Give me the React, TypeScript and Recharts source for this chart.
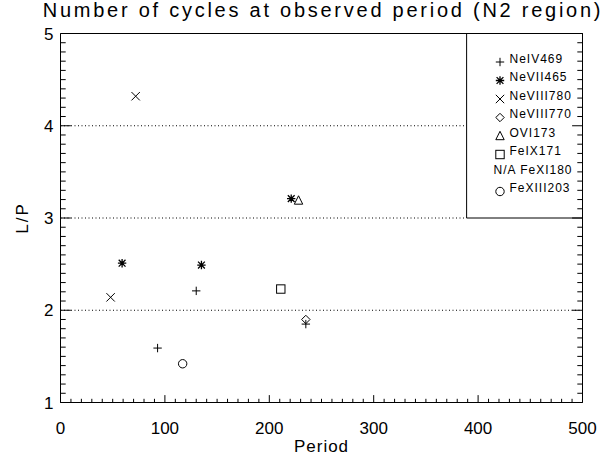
import {
  ScatterChart,
  Scatter,
  XAxis,
  YAxis,
  ReferenceLine,
  ReferenceArea,
  Legend,
} from "recharts";

const FONT = "'Liberation Sans', Arial, sans-serif";
const INK = "#000";

// axis ticks
const xMajorTicks = [0, 100, 200, 300, 400, 500];
const yMajorTicks = [1, 2, 3, 4, 5];
const xMinorStep = 10;
const yMinorStep = 0.1;

// dotted guides, and the corner the legend box takes up
const gridFullWidth = [2];
const gridToLegend = [3, 4];
const legendLeftPeriod = 389;

// period vs L/P per line
const neIV469 = [
  { period: 93, lp: 1.59 },
  { period: 130, lp: 2.21 },
  { period: 235, lp: 1.85 },
];
const neVII465 = [
  { period: 59, lp: 2.51 },
  { period: 135, lp: 2.49 },
  { period: 221, lp: 3.21 },
];
const neVIII780 = [
  { period: 48, lp: 2.14 },
  { period: 72, lp: 4.32 },
];
const neVIII770 = [{ period: 235, lp: 1.9 }];
const ovi173 = [{ period: 228, lp: 3.19 }];
const feIX171 = [{ period: 211, lp: 2.23 }];
const feXIII203 = [{ period: 117, lp: 1.42 }];

const legendNames = [
  "NeIV469",
  "NeVII465",
  "NeVIII780",
  "NeVIII770",
  "OVI173",
  "FeIX171",
  "N/A FeXI180",
  "FeXIII203",
];
const legendKinds = ["plus", "star", "cross", "diamond", "triangle", "square", "", "circle"];

function withMinor(major: number[], step: number) {
  const out: number[] = [];
  const n = Math.round((major[1] - major[0]) / step);
  for (let i = 0; i < major.length - 1; i++) {
    for (let j = 0; j < n; j++) out.push(+(major[i] + j * step).toFixed(4));
  }
  out.push(major[major.length - 1]);
  return out;
}

const xTicks = withMinor(xMajorTicks, xMinorStep);
const yTicks = withMinor(yMajorTicks, yMinorStep);

const isMajor = (v: number, step: number) => Math.abs(v - Math.round(v / step) * step) < 1e-6;

function Marker({ kind, cx, cy }: { kind: string; cx: number; cy: number }) {
  const s = 4.2;
  const st = { stroke: INK, strokeWidth: 1, fill: "none" };
  switch (kind) {
    case "plus":
      return <path d={`M${cx - s},${cy}H${cx + s}M${cx},${cy - s}V${cy + s}`} {...st} />;
    case "cross":
      return (
        <path d={`M${cx - s},${cy - s}L${cx + s},${cy + s}M${cx - s},${cy + s}L${cx + s},${cy - s}`} {...st} />
      );
    case "star": {
      const d = 3.4;
      return (
        <path
          d={`M${cx - s},${cy}H${cx + s}M${cx},${cy - s}V${cy + s}M${cx - d},${cy - d}L${cx + d},${cy + d}M${cx - d},${cy + d}L${cx + d},${cy - d}`}
          {...st}
          strokeWidth={1.3}
        />
      );
    }
    case "diamond":
      return <path d={`M${cx},${cy - s}L${cx + s},${cy}L${cx},${cy + s}L${cx - s},${cy}Z`} {...st} />;
    case "triangle":
      return <path d={`M${cx},${cy - s - 0.5}L${cx + s},${cy + s - 0.5}L${cx - s},${cy + s - 0.5}Z`} {...st} />;
    case "square":
      return <rect x={cx - s} y={cy - s} width={2 * s} height={2 * s} {...st} />;
    case "circle":
      return <circle cx={cx} cy={cy} r={s} {...st} />;
    default:
      return null;
  }
}

const shapeOf = (kind: string) => (p: any) => <Marker kind={kind} cx={p.cx} cy={p.cy} />;

const labelText = { fontFamily: FONT, fontSize: 17, fill: INK };

// ticks point into the plot, IDL style; labels only on bottom and left
function BottomTick(props: any) {
  const { x, y, payload } = props;
  const major = isMajor(payload.value, 100);
  return (
    <g>
      <line x1={x} x2={x} y1={y} y2={y - (major ? 7.4 : 3.7)} stroke={INK} />
      {major && (
        <text x={x} y={y + 31} textAnchor="middle" {...labelText}>
          {payload.value}
        </text>
      )}
    </g>
  );
}

function TopTick(props: any) {
  const { x, y, payload } = props;
  const major = isMajor(payload.value, 100);
  return <line x1={x} x2={x} y1={y} y2={y + (major ? 7.4 : 3.7)} stroke={INK} />;
}

function LeftTick(props: any) {
  const { x, y, payload } = props;
  const major = isMajor(payload.value, 1);
  return (
    <g>
      <line x1={x} x2={x + (major ? 10.4 : 5.2)} y1={y} y2={y} stroke={INK} />
      {major && (
        <text x={x - 7} y={y + 6} textAnchor="end" {...labelText}>
          {payload.value}
        </text>
      )}
    </g>
  );
}

function RightTick(props: any) {
  const { x, y, payload } = props;
  const major = isMajor(payload.value, 1);
  return <line x1={x} x2={x - (major ? 10.4 : 5.2)} y1={y} y2={y} stroke={INK} />;
}

function LegendBox() {
  return (
    <svg width={114} height={184} style={{ display: "block" }}>
      {legendNames.map((name, i) => {
        const base = 28.5 + i * 18.5;
        const kind = legendKinds[i];
        return (
          <g key={name}>
            {kind && <Marker kind={kind} cx={32} cy={base - 0.5} />}
            <text
              x={kind ? 41.5 : 25.5}
              y={base}
              fontFamily={FONT}
              fontSize={12}
              letterSpacing={1}
              fill={INK}
            >
              {name}
            </text>
          </g>
        );
      })}
    </svg>
  );
}

export default function App() {
  return (
    <div style={{ position: "absolute", left: 0, top: 0, width: 611, height: 457, background: "#fff" }}>
      <div
        style={{
          position: "absolute",
          left: 40,
          top: 0,
          width: 566,
          textAlign: "center",
          fontFamily: FONT,
          fontSize: 20,
          lineHeight: "20px",
          letterSpacing: 2.75,
          color: INK,
          whiteSpace: "nowrap",
        }}
      >
        Number of cycles at observed period (N2 region)
      </div>
      <ScatterChart width={611} height={457} margin={{ top: 32.5, right: 27.5, bottom: 0, left: 0 }}>
        <XAxis
          xAxisId={0}
          type="number"
          dataKey="period"
          domain={[0, 500]}
          allowDataOverflow
          ticks={xTicks}
          interval={0}
          height={54.5}
          tickSize={0}
          tickMargin={0}
          tick={BottomTick}
          axisLine={{ stroke: INK }}
          label={{
            content: (p: any) => {
              const vb = p.viewBox;
              return (
                <text x={vb.x + vb.width / 2} y={vb.y + 49.5} textAnchor="middle" letterSpacing={1} {...labelText}>
                  Period
                </text>
              );
            },
          }}
        />
        <XAxis
          xAxisId="top"
          orientation="top"
          type="number"
          domain={[0, 500]}
          allowDataOverflow
          ticks={xTicks}
          interval={0}
          height={1}
          tickSize={0}
          tickMargin={0}
          tick={TopTick}
          axisLine={{ stroke: INK }}
        />
        <YAxis
          yAxisId={0}
          type="number"
          dataKey="lp"
          domain={[1, 5]}
          allowDataOverflow
          ticks={yTicks}
          interval={0}
          width={60.5}
          tickSize={0}
          tickMargin={0}
          tick={LeftTick}
          axisLine={{ stroke: INK }}
          label={{
            content: (p: any) => {
              const vb = p.viewBox;
              const cx = 22;
              const cy = vb.y + vb.height / 2;
              return (
                <text
                  x={cx}
                  y={cy}
                  transform={`rotate(-90 ${cx} ${cy})`}
                  textAnchor="middle"
                  dominantBaseline="central"
                  letterSpacing={2}
                  {...labelText}
                >
                  L/P
                </text>
              );
            },
          }}
        />
        <YAxis
          yAxisId="right"
          orientation="right"
          type="number"
          domain={[1, 5]}
          allowDataOverflow
          ticks={yTicks}
          interval={0}
          width={1}
          tickSize={0}
          tickMargin={0}
          tick={RightTick}
          axisLine={{ stroke: INK }}
        />

        {gridFullWidth.map((v) => (
          <ReferenceLine key={`g${v}`} y={v} stroke={INK} strokeDasharray="1 2.5" />
        ))}
        {gridToLegend.map((v) => (
          <ReferenceLine
            key={`h${v}`}
            segment={[
              { x: 0, y: v },
              { x: legendLeftPeriod, y: v },
            ]}
            stroke={INK}
            strokeDasharray="1 2.5"
          />
        ))}
        <ReferenceArea
          x1={legendLeftPeriod}
          x2={500}
          y1={3}
          y2={5}
          fill="#fff"
          fillOpacity={1}
          stroke={INK}
          strokeWidth={1}
        />

        <Scatter name="NeIV469" data={neIV469} shape={shapeOf("plus")} isAnimationActive={false} />
        <Scatter name="NeVII465" data={neVII465} shape={shapeOf("star")} isAnimationActive={false} />
        <Scatter name="NeVIII780" data={neVIII780} shape={shapeOf("cross")} isAnimationActive={false} />
        <Scatter name="NeVIII770" data={neVIII770} shape={shapeOf("diamond")} isAnimationActive={false} />
        <Scatter name="OVI173" data={ovi173} shape={shapeOf("triangle")} isAnimationActive={false} />
        <Scatter name="FeIX171" data={feIX171} shape={shapeOf("square")} isAnimationActive={false} />
        <Scatter name="FeXIII203" data={feXIII203} shape={shapeOf("circle")} isAnimationActive={false} />

        <Legend
          layout="vertical"
          align="center"
          verticalAlign="middle"
          content={() => <LegendBox />}
          wrapperStyle={{ left: 467.5, top: 34, width: 114, height: 184 }}
        />
      </ScatterChart>
    </div>
  );
}
